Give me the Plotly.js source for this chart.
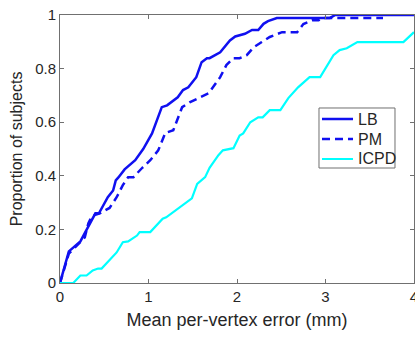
<!DOCTYPE html>
<html>
<head>
<meta charset="utf-8">
<script src="https://cdn.plot.ly/plotly-3.0.1.min.js"></script>
<style>html,body{margin:0;padding:0;background:#fff;}#chart{width:415px;height:337px;}</style>
</head>
<body>
<div id="chart"></div>
<script>
// LB
const lbX = [0, 0.10, 0.23, 0.34, 0.40, 0.44, 0.51, 0.54, 0.60, 0.63, 0.66, 0.73, 0.85, 0.94, 1.04, 1.15, 1.21, 1.33, 1.39, 1.45, 1.54, 1.60, 1.66, 1.69, 1.81, 1.86, 1.92, 1.98, 2.09, 2.17, 2.24, 2.30, 2.35, 2.45, 3.05, 3.11, 4.0];
const lbY = [0, 0.118, 0.155, 0.226, 0.26, 0.26, 0.30, 0.32, 0.345, 0.383, 0.394, 0.424, 0.458, 0.50, 0.558, 0.656, 0.663, 0.693, 0.72, 0.73, 0.768, 0.824, 0.839, 0.839, 0.861, 0.88, 0.905, 0.92, 0.93, 0.944, 0.944, 0.967, 0.977, 0.989, 0.989, 1.0, 1.0];
// PM
const pmX = [0, 0.10, 0.17, 0.28, 0.32, 0.36, 0.45, 0.56, 0.64, 0.71, 0.77, 0.83, 0.93, 1.02, 1.11, 1.19, 1.28, 1.32, 1.38, 1.47, 1.62, 1.68, 1.81, 1.88, 1.96, 2.03, 2.11, 2.19, 2.28, 2.37, 2.51, 2.68, 2.75, 2.85, 2.92, 2.97, 3.65];
const pmY = [0, 0.11, 0.133, 0.17, 0.222, 0.25, 0.26, 0.28, 0.32, 0.365, 0.395, 0.395, 0.43, 0.458, 0.495, 0.56, 0.57, 0.607, 0.656, 0.675, 0.70, 0.708, 0.768, 0.813, 0.839, 0.839, 0.85, 0.88, 0.899, 0.918, 0.936, 0.936, 0.966, 0.98, 0.98, 0.989, 0.989];
// ICPD
const icX = [0, 0.15, 0.23, 0.30, 0.37, 0.43, 0.47, 0.57, 0.64, 0.71, 0.77, 0.87, 0.90, 1.02, 1.11, 1.16, 1.20, 1.49, 1.55, 1.64, 1.69, 1.79, 1.84, 1.96, 2.03, 2.07, 2.15, 2.24, 2.29, 2.37, 2.49, 2.58, 2.69, 2.82, 2.94, 3.02, 3.09, 3.16, 3.24, 3.36, 3.88, 4.0];
const icY = [0, 0, 0.028, 0.028, 0.047, 0.054, 0.054, 0.09, 0.114, 0.152, 0.155, 0.177, 0.19, 0.19, 0.222, 0.24, 0.245, 0.316, 0.37, 0.395, 0.43, 0.477, 0.495, 0.503, 0.55, 0.558, 0.60, 0.618, 0.618, 0.645, 0.645, 0.69, 0.73, 0.768, 0.768, 0.813, 0.85, 0.869, 0.876, 0.899, 0.899, 0.936];

const seriesNames = ['LB', 'PM', 'ICPD'];
const xTickVals = [0, 1, 2, 3, 4];
const yTickVals = [0, 0.2, 0.4, 0.6, 0.8, 1];

const FONT = 'Liberation Sans, Arial, sans-serif';
const BLUE = '#1010f0';
const CYAN = '#00ffff';
const seriesLines = [
  {color: BLUE, width: 2.5},
  {color: BLUE, width: 2.5, dash: '8px,5px'},
  {color: CYAN, width: 2.2}
];

const traces = [
  {x: lbX, y: lbY, name: seriesNames[0], mode: 'lines', cliponaxis: false, line: seriesLines[0]},
  {x: pmX, y: pmY, name: seriesNames[1], mode: 'lines', cliponaxis: false, line: seriesLines[1]},
  {x: icX, y: icY, name: seriesNames[2], mode: 'lines', cliponaxis: false, line: seriesLines[2]}
];

// Legend box (MATLAB-style, compact) built from the series names/styles
const legX0 = 0.7316, legX1 = 0.9463, legY0 = 0.4291, legY1 = 0.6530;
const rowY = [0.6119, 0.5373, 0.4627];
const shapes = [{type: 'rect', xref: 'paper', yref: 'paper', x0: legX0, x1: legX1, y0: legY0, y1: legY1,
  line: {color: '#707070', width: 1}, fillcolor: '#ffffff', layer: 'above'}];
const annotations = [];
seriesNames.forEach((n, i) => {
  shapes.push({type: 'line', xref: 'paper', yref: 'paper', x0: 0.7401, x1: 0.8277, y0: rowY[i], y1: rowY[i],
    line: Object.assign({}, seriesLines[i]), layer: 'above'});
  annotations.push({xref: 'paper', yref: 'paper', x: 0.836, y: rowY[i], xanchor: 'left', yanchor: 'middle',
    text: n, showarrow: false, font: {family: FONT, size: 16, color: '#262626'}});
});

const axisCommon = {
  showline: true, linecolor: '#707070', linewidth: 1, mirror: 'ticks',
  ticks: 'inside', ticklen: 4, tickcolor: '#707070', tickwidth: 1,
  showgrid: false, zeroline: false, ticklabeloverflow: 'allow',
  tickfont: {family: FONT, size: 15, color: '#262626'}
};

const layout = {
  width: 415, height: 337,
  margin: {l: 60, r: 1, t: 15, b: 54},
  paper_bgcolor: '#ffffff', plot_bgcolor: '#ffffff',
  font: {family: FONT, color: '#262626'},
  showlegend: false,
  shapes: shapes,
  annotations: annotations,
  xaxis: Object.assign({}, axisCommon, {
    range: [0, 4], tickvals: xTickVals, ticktext: xTickVals.map(String),
    title: {text: 'Mean per-vertex error (mm)', font: {size: 18, color: '#262626'}, standoff: 9}
  }),
  yaxis: Object.assign({}, axisCommon, {
    range: [0, 1], tickvals: yTickVals, ticktext: yTickVals.map(String),
    title: {text: 'Proportion of subjects', font: {size: 16, color: '#262626'}, standoff: 8}
  })
};

Plotly.newPlot('chart', traces, layout, {staticPlot: true, displayModeBar: false});
</script>
</body>
</html>
